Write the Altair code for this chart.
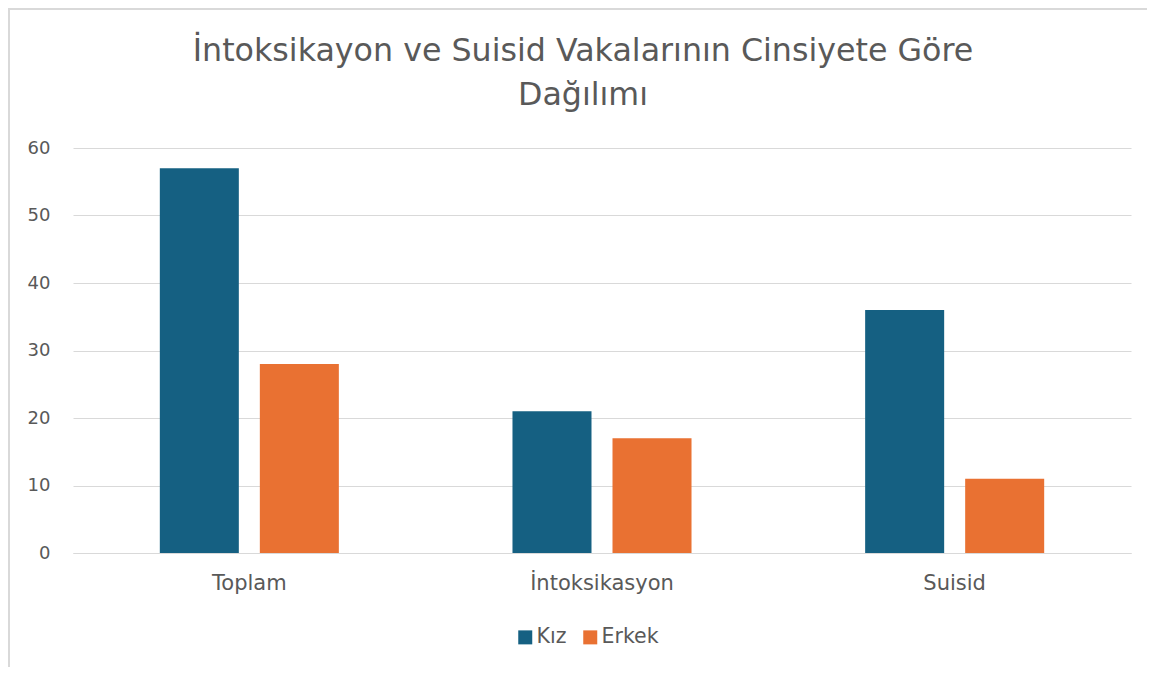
import altair as alt
import pandas as pd

categories = ["Toplam", "İntoksikasyon", "Suisid"]
series = ["Kız", "Erkek"]
kiz_values = [57, 21, 36]
erkek_values = [28, 17, 11]
colors = ["#156082", "#E97132"]
title_lines = ["İntoksikayon ve Suisid Vakalarının Cinsiyete Göre", "Dağılımı"]

rows = []
for c, k, e in zip(categories, kiz_values, erkek_values):
    rows.append({"Kategori": c, "Cinsiyet": series[0], "Değer": k})
    rows.append({"Kategori": c, "Cinsiyet": series[1], "Değer": e})
df = pd.DataFrame(rows)

FONT = "DejaVu Sans"
GRAY = "#595959"
GRID = "#d9d9d9"

bars = alt.Chart(df).mark_bar().encode(
    x=alt.X("Kategori:N", sort=categories,
            scale=alt.Scale(paddingInner=0, paddingOuter=0),
            axis=alt.Axis(title=None, labelAngle=0, ticks=False, domain=True,
                          domainColor=GRID, labelPadding=19, labelFontSize=21,
                          labelColor=GRAY, labelFont=FONT)),
    xOffset=alt.XOffset("Cinsiyet:N", sort=series,
                        scale=alt.Scale(paddingInner=0.21, paddingOuter=0.868)),
    y=alt.Y("Değer:Q", scale=alt.Scale(domain=[0, 60]),
            axis=alt.Axis(title=None, values=[0, 10, 20, 30, 40, 50, 60],
                          ticks=False, domain=False, grid=True, gridColor=GRID,
                          labelPadding=23, labelFontSize=18, labelColor=GRAY,
                          labelFont=FONT)),
    color=alt.Color("Cinsiyet:N", sort=series,
                    scale=alt.Scale(domain=series, range=colors),
                    legend=alt.Legend(title=None, orient="none", direction="horizontal",
                                      legendX=442, legendY=479, symbolType="square",
                                      symbolSize=196, symbolStrokeWidth=0,
                                      labelFontSize=20.5, labelColor=GRAY, labelFont=FONT,
                                      labelOffset=1, columnPadding=13, padding=0)),
)

frame_data = alt.Data(values=[{"a": 1}])
left_line = alt.Chart(frame_data).mark_rule(color=GRID, strokeWidth=2).encode(
    x=alt.value(-64), y=alt.value(-140), y2=alt.value(530))
top_line = alt.Chart(frame_data).mark_rule(color=GRID, strokeWidth=2).encode(
    x=alt.value(-64), x2=alt.value(1100), y=alt.value(-139))

title = alt.Chart(frame_data).mark_text(
    text=title_lines, font=FONT, fontSize=31.7, color=GRAY, align="center",
    baseline="alphabetic", lineHeight=44,
).encode(x=alt.value(510), y=alt.value(-87))

chart = alt.layer(left_line, top_line, title, bars).properties(
    width=1058, height=405,
    padding={"left": 65, "top": 140, "right": 16, "bottom": 114},
    autosize=alt.AutoSizeParams(type="none"),
).configure_view(stroke=None)

chart.save("out.html", embed_options={"renderer": "svg", "actions": False})
